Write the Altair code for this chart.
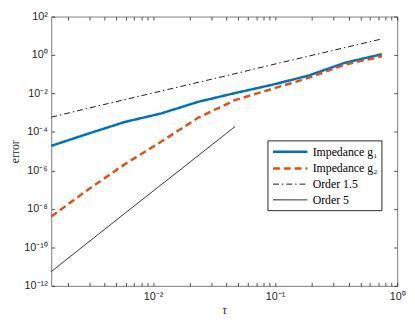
import altair as alt
import pandas as pd

# step sizes tau (x) and errors (y)
TAU = [0.75, 0.375, 0.1875, 0.09375, 0.046875, 0.0234375,
       0.01171875, 0.005859375, 0.0029296875, 0.00146484375]
G1 = [1.1, 0.40, 0.085, 0.028, 0.0105, 0.0037, 9.3e-4, 3.3e-4, 8.1e-5, 1.9e-5]
G2 = [0.87, 0.32, 0.065, 0.017, 0.0045, 5.5e-4, 3.2e-5, 2.1e-6, 1.0e-7, 4.0e-9]
ORDER15 = [6.9, 2.45, 0.87, 0.31, 0.107, 0.038, 0.0135, 0.0048, 0.0017, 5.9e-4]
ORDER5_TAU = [0.046875, 0.0234375, 0.01171875, 0.005859375, 0.0029296875, 0.00146484375]
ORDER5 = [1.9e-4, 5.9e-6, 1.86e-7, 5.8e-9, 1.8e-10, 5.5e-12]

SERIES = ["Impedance g₁", "Impedance g₂", "Order 1.5", "Order 5"]
COLORS = ["#0072BD", "#D95319", "#000000", "#000000"]
DASHES = [[1, 0], [7, 4], [6, 3, 1.5, 3], [1, 0]]
WIDTHS = [2.5, 2.5, 0.9, 0.9]

X_MAJOR = [0.01, 0.1, 1]
X_MAJOR_LABELS = ["10⁻²", "10⁻¹", "10⁰"]
X_TICKS = [0.002, 0.003, 0.004, 0.005, 0.006, 0.007, 0.008, 0.009,
           0.01, 0.02, 0.03, 0.04, 0.05, 0.06, 0.07, 0.08, 0.09,
           0.1, 0.2, 0.3, 0.4, 0.5, 0.6, 0.7, 0.8, 0.9, 1]
Y_MAJOR = [1e2, 1, 1e-2, 1e-4, 1e-6, 1e-8, 1e-10, 1e-12]
Y_MAJOR_LABELS = ["10²", "10⁰", "10⁻²", "10⁻⁴", "10⁻⁶", "10⁻⁸", "10⁻¹⁰", "10⁻¹²"]

rows = []
for name, xs, ys in [(SERIES[0], TAU, G1), (SERIES[1], TAU, G2),
                     (SERIES[2], TAU, ORDER15), (SERIES[3], ORDER5_TAU, ORDER5)]:
    for x, y in zip(xs, ys):
        rows.append({"series": name, "tau": x, "err": y})
df = pd.DataFrame(rows)


def label_expr(values, labels):
    s = "''"
    for v, l in zip(values, labels):
        s = f"datum.value == {v!r} ? '{l}' : ({s})"
    return s


W, H = 352, 274
xscale = alt.Scale(type="log", domain=[TAU[-1], 1], nice=False)
yscale = alt.Scale(type="log", domain=[1e-12, 1e2], nice=False)
TICK = "#262626"

legend = alt.Legend(title=None)
main = alt.Chart(df).mark_line().encode(
    x=alt.X("tau:Q", scale=xscale, axis=alt.Axis(
        orient="bottom", values=X_MAJOR, labelExpr=label_expr(X_MAJOR, X_MAJOR_LABELS),
        ticks=False, domain=False, grid=False, labelFlush=False, labelOverlap=False,
        labelFont="Liberation Sans", labelFontSize=11, labelColor=TICK, labelPadding=5,
        title="τ", titleFont="Liberation Serif", titleFontStyle="italic",
        titleFontWeight="normal", titleFontSize=12, titleColor=TICK, titlePadding=3)),
    y=alt.Y("err:Q", scale=yscale, axis=alt.Axis(
        orient="left", values=Y_MAJOR, labelExpr=label_expr(Y_MAJOR, Y_MAJOR_LABELS),
        ticks=False, domain=False, grid=False, labelFlush=False, labelOverlap=False,
        labelFont="Liberation Sans", labelFontSize=11, labelColor=TICK, labelPadding=4,
        title="error", titleFont="Liberation Serif", titleFontWeight="normal",
        titleFontSize=12, titleColor=TICK, titlePadding=2)),
    color=alt.Color("series:N", scale=alt.Scale(domain=SERIES, range=COLORS), legend=legend),
    strokeDash=alt.StrokeDash("series:N", scale=alt.Scale(domain=SERIES, range=DASHES), legend=legend),
    strokeWidth=alt.StrokeWidth("series:N", scale=alt.Scale(type="ordinal", domain=SERIES, range=WIDTHS), legend=legend),
)


def tick_layer(xorient, yorient):
    return alt.Chart(df).mark_line(strokeOpacity=0).encode(
        x=alt.X("tau:Q", scale=xscale, axis=alt.Axis(
            orient=xorient, offset=-H, values=X_TICKS, labels=False, domain=False,
            grid=False, title=None, tickSize=3.5, tickColor=TICK, tickWidth=0.8)),
        y=alt.Y("err:Q", scale=yscale, axis=alt.Axis(
            orient=yorient, offset=-W, values=Y_MAJOR, labels=False, domain=False,
            grid=False, title=None, tickSize=3.5, tickColor=TICK, tickWidth=0.8)),
        detail="series:N",
    )


chart = alt.layer(
    main, tick_layer("top", "right"), tick_layer("bottom", "left")
).resolve_axis(x="independent", y="independent").properties(
    width=W, height=H, autosize=alt.AutoSizeParams(type="none"),
    padding={"left": 44, "top": 6, "right": 10, "bottom": 30},
).configure_view(stroke="#7a7a7a", strokeWidth=1).configure_legend(
    orient="none", legendX=220, legendY=126, symbolType="M-1,0H5", symbolSize=136,
    labelFont="Liberation Serif", labelFontSize=12, labelColor="#000000",
    fillColor="white", strokeColor="#262626", padding=4, rowPadding=3, labelOffset=27,
    cornerRadius=0,
)

chart.save("out.html", embed_options={"renderer": "svg", "actions": False})
